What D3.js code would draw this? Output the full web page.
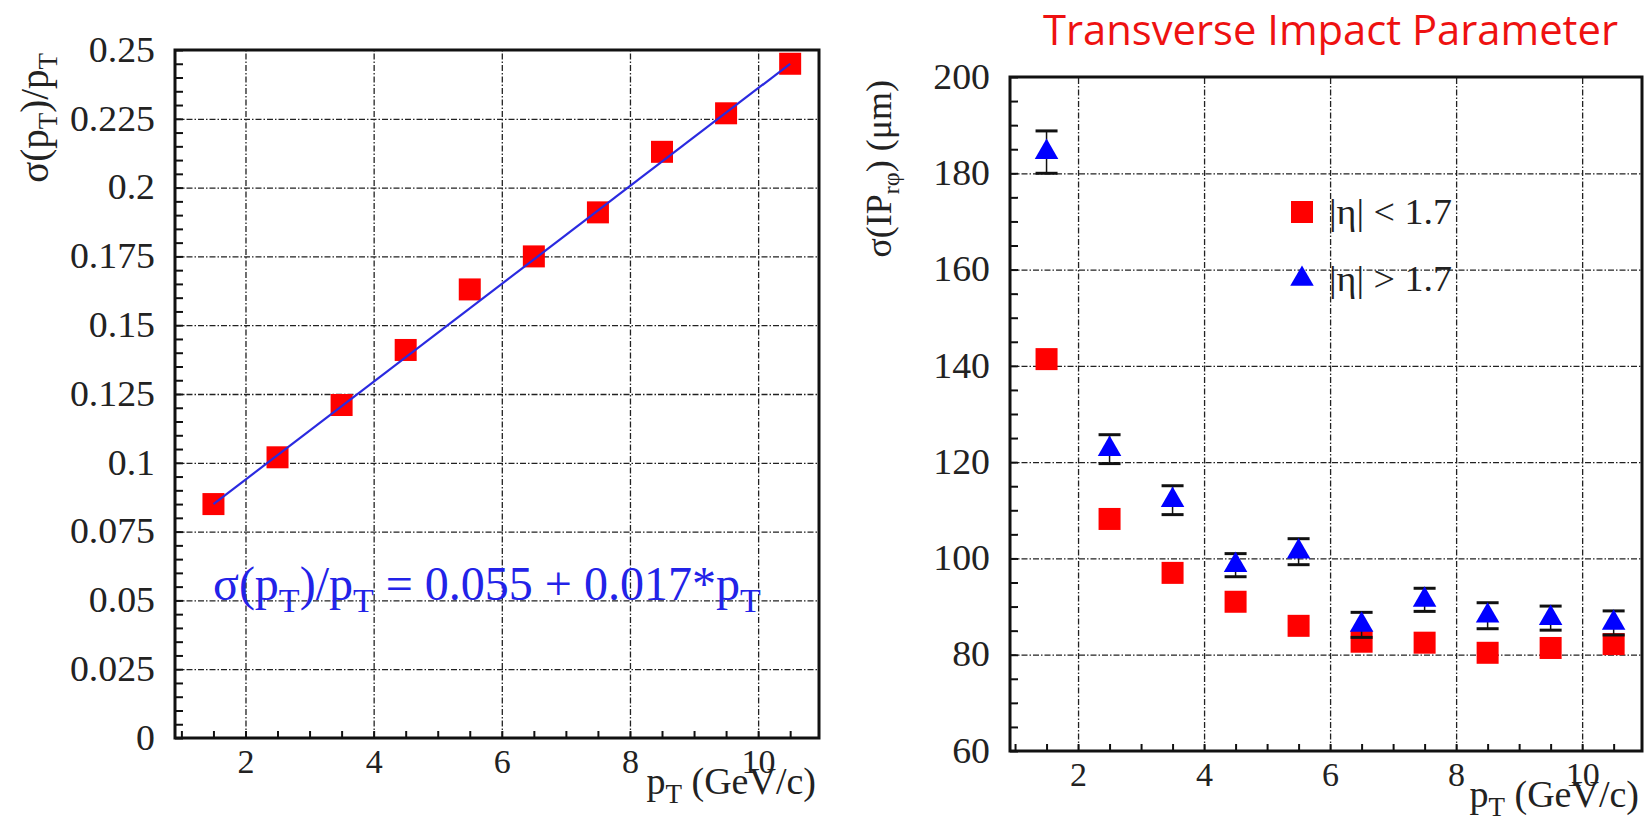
<!DOCTYPE html>
<html>
<head>
<meta charset="utf-8">
<script src="https://cdn.jsdelivr.net/npm/d3@7"></script>
<style>
    body { margin: 0; background: #fff; }
    .serif { font-family: "Liberation Serif", "DejaVu Serif", serif; }
    .grid line { stroke: #222; stroke-width: 1.3; stroke-dasharray: 6,2,1.5,2; }
</style>
</head>
<body>
<script>
//wrap everything in a self-executing anonymous function
(function(){

//---- data ----
var ptBins = [1.5, 2.5, 3.5, 4.5, 5.5, 6.5, 7.5, 8.5, 9.5, 10.5];

//left panel: momentum resolution
var resolution = [0.085, 0.102, 0.121, 0.141, 0.163, 0.175, 0.191, 0.213, 0.227, 0.245];
var fitX = [1.5, 10.5],
    fitY = [0.085, 0.245];

//right panel: transverse impact parameter (um)
var ipCentral = [141.4, 108.2, 97.0, 91.0, 86.0, 82.7, 82.5, 80.4, 81.4, 82.2];
var ipForward = [184.4, 122.7, 112.1, 98.6, 101.4, 86.2, 91.4, 88.1, 87.6, 86.6];
var ipForwardErr = [4.4, 3.0, 3.0, 2.4, 2.7, 2.6, 2.4, 2.7, 2.5, 2.5];

//tick values
var xMajor = [2, 4, 6, 8, 10];
var xMinor = d3.range(1, 10.75, 0.5);
var yLeftMajor = [0, 0.025, 0.05, 0.075, 0.1, 0.125, 0.15, 0.175, 0.2, 0.225, 0.25];
var yLeftLabels = ["0", "0.025", "0.05", "0.075", "0.1", "0.125", "0.15", "0.175", "0.2", "0.225", "0.25"];
var yLeftMinor = d3.range(0, 0.2501, 0.005);
var yRightMajor = [60, 80, 100, 120, 140, 160, 180, 200];
var yRightMinor = d3.range(60, 200.1, 5);

var legendLabels = ["|\u03b7| < 1.7", "|\u03b7| > 1.7"];

var red = "#ff0000",
    blue = "#0000ff";

window.onload = setChart();

function setChart(){
    var svg = d3.select("body")
        .append("svg")
        .attr("width", 1646)
        .attr("height", 822);

    //left panel scales
    var xL = d3.scaleLinear().domain([0.9, 10.95]).range([175, 819]),
        yL = d3.scaleLinear().domain([0, 0.25]).range([738, 50]);

    //right panel scales
    var xR = d3.scaleLinear().domain([0.92, 10.95]).range([1010, 1642]),
        yR = d3.scaleLinear().domain([60, 200]).range([751, 77]);

    drawFrame(svg, xL, yL, yLeftMajor, yLeftMinor, function(d, i){ return yLeftLabels[i]; });
    drawFrame(svg, xR, yR, yRightMajor, yRightMinor, d3.format("d"));

    drawLeft(svg, xL, yL);
    drawRight(svg, xR, yR);
};

//grid, ticks, labels and box for one panel
function drawFrame(svg, x, y, yMajor, yMinor, yFormat){
    var x0 = x.range()[0], x1 = x.range()[1],
        y0 = y.range()[0], y1 = y.range()[1],
        w = x1 - x0, h = y0 - y1;

    //dash-dot grid lines
    svg.append("g")
        .attr("class", "grid")
        .attr("transform", "translate(0," + y0 + ")")
        .call(d3.axisBottom(x).tickValues(xMajor).tickSize(-h).tickFormat(""))
        .call(function(g){ g.select(".domain").remove(); });

    svg.append("g")
        .attr("class", "grid")
        .attr("transform", "translate(" + x0 + ",0)")
        .call(d3.axisLeft(y).tickValues(yMajor.slice(1, -1)).tickSize(-w).tickFormat(""))
        .call(function(g){ g.select(".domain").remove(); });

    //minor ticks pointing inward
    svg.append("g")
        .attr("transform", "translate(0," + y0 + ")")
        .call(d3.axisBottom(x).tickValues(xMinor).tickSize(-7).tickFormat(""))
        .call(function(g){
            g.select(".domain").remove();
            g.selectAll("line").attr("stroke", "#111").attr("stroke-width", 2);
        });

    svg.append("g")
        .attr("transform", "translate(" + x0 + ",0)")
        .call(d3.axisLeft(y).tickValues(yMinor).tickSize(-8).tickFormat(""))
        .call(function(g){
            g.select(".domain").remove();
            g.selectAll("line").attr("stroke", "#111").attr("stroke-width", 2);
        });

    //tick labels (a little wider than the font, like the scan)
    svg.append("g")
        .attr("transform", "translate(0," + y0 + ")")
        .call(d3.axisBottom(x).tickValues(xMajor).tickSize(0).tickPadding(11))
        .call(function(g){
            g.select(".domain").remove();
            g.selectAll("text").attr("font-size", 34).attr("fill", "#222")
                .attr("font-family", "Liberation Serif, DejaVu Serif, serif");
        });

    var yAxis = svg.append("g")
        .attr("transform", "translate(" + x0 + ",0)")
        .call(d3.axisLeft(y).tickValues(yMajor).tickSize(0).tickPadding(20).tickFormat(yFormat))
        .call(function(g){
            g.select(".domain").remove();
            g.selectAll("text").attr("font-size", 35).attr("fill", "#222")
                .attr("font-family", "Liberation Serif, DejaVu Serif, serif");
        });
    yAxis.selectAll("text").each(function(){
        var len = this.getComputedTextLength();
        d3.select(this).attr("textLength", len * 1.08).attr("lengthAdjust", "spacingAndGlyphs");
    });

    //box
    svg.append("rect")
        .attr("x", x0)
        .attr("y", y1)
        .attr("width", w)
        .attr("height", h)
        .attr("fill", "none")
        .attr("stroke", "#111")
        .attr("stroke-width", 3);

    //x axis title, sits a bit below the tick labels
    var xt = svg.append("text")
        .attr("class", "serif")
        .attr("x", x1 - 3)
        .attr("y", y0 + 56)
        .attr("text-anchor", "end")
        .attr("font-size", 38)
        .attr("fill", "#222");
    xt.append("tspan").text("p");
    xt.append("tspan").attr("dy", 9).attr("font-size", 27).text("T");
    xt.append("tspan").attr("dy", -9).text(" (GeV/c)");
};

function drawLeft(svg, x, y){
    //red squares
    svg.selectAll(".resSq")
        .data(ptBins)
        .enter()
        .append("rect")
        .attr("class", "resSq")
        .attr("x", function(d){ return x(d) - 11; })
        .attr("y", function(d, i){ return y(resolution[i]) - 11; })
        .attr("width", 22)
        .attr("height", 22)
        .attr("fill", red);

    //linear fit
    var line = d3.line()
        .x(function(d){ return x(d); })
        .y(function(d, i){ return y(fitY[i]); });

    svg.append("path")
        .datum(fitX)
        .attr("d", line)
        .attr("fill", "none")
        .attr("stroke", "#2a2ae0")
        .attr("stroke-width", 2.2);

    //fit formula
    var f = svg.append("text")
        .attr("class", "serif")
        .attr("x", 213)
        .attr("y", 600)
        .attr("font-size", 48)
        .attr("fill", "#2222e8");
    f.append("tspan").text("\u03c3(p");
    f.append("tspan").attr("dy", 12).attr("font-size", 34).text("T");
    f.append("tspan").attr("dy", -12).text(")/p");
    f.append("tspan").attr("dy", 12).attr("font-size", 34).text("T");
    f.append("tspan").attr("dy", -12).text(" = 0.055 + 0.017*p");
    f.append("tspan").attr("dy", 12).attr("font-size", 34).text("T");

    //y axis title
    var t = svg.append("text")
        .attr("class", "serif")
        .attr("transform", "translate(48,53) rotate(-90)")
        .attr("text-anchor", "end")
        .attr("font-size", 39)
        .attr("fill", "#222");
    t.append("tspan").text("\u03c3(p");
    t.append("tspan").attr("dy", 9).attr("font-size", 27).text("T");
    t.append("tspan").attr("dy", -9).text(")/p");
    t.append("tspan").attr("dy", 9).attr("font-size", 27).text("T");
};

function drawRight(svg, x, y){
    var tri = d3.symbol().type(d3.symbolTriangle).size(240);

    //red squares first
    svg.selectAll(".ipSq")
        .data(ptBins)
        .enter()
        .append("rect")
        .attr("class", "ipSq")
        .attr("x", function(d){ return x(d) - 11; })
        .attr("y", function(d, i){ return y(ipCentral[i]) - 11; })
        .attr("width", 22)
        .attr("height", 22)
        .attr("fill", red);

    //error bars for triangles
    var err = svg.selectAll(".err")
        .data(ptBins)
        .enter()
        .append("g")
        .attr("class", "err");

    err.append("line")
        .attr("x1", function(d){ return x(d); })
        .attr("x2", function(d){ return x(d); })
        .attr("y1", function(d, i){ return y(ipForward[i] - ipForwardErr[i]); })
        .attr("y2", function(d, i){ return y(ipForward[i] + ipForwardErr[i]); })
        .attr("stroke", "#111")
        .attr("stroke-width", 1.5);

    [-1, 1].forEach(function(s){
        err.append("line")
            .attr("x1", function(d){ return x(d) - 11; })
            .attr("x2", function(d){ return x(d) + 11; })
            .attr("y1", function(d, i){ return y(ipForward[i] + s * ipForwardErr[i]); })
            .attr("y2", function(d, i){ return y(ipForward[i] + s * ipForwardErr[i]); })
            .attr("stroke", "#111")
            .attr("stroke-width", 3);
    });

    //blue triangles
    svg.selectAll(".ipTri")
        .data(ptBins)
        .enter()
        .append("path")
        .attr("class", "ipTri")
        .attr("d", tri)
        .attr("transform", function(d, i){
            return "translate(" + x(d) + "," + y(ipForward[i]) + ")";
        })
        .attr("fill", blue);

    //legend
    var legend = svg.append("g");
    legend.append("rect")
        .attr("x", 1291).attr("y", 201)
        .attr("width", 22).attr("height", 22)
        .attr("fill", red);
    legend.append("path")
        .attr("d", tri)
        .attr("transform", "translate(1302,279)")
        .attr("fill", blue);
    legend.selectAll(".legText")
        .data(legendLabels)
        .enter()
        .append("text")
        .attr("class", "legText serif")
        .attr("x", 1329)
        .attr("y", function(d, i){ return 224 + i * 67; })
        .attr("font-size", 36)
        .attr("fill", "#222")
        .attr("textLength", 123)
        .attr("lengthAdjust", "spacingAndGlyphs")
        .text(function(d){ return d; });

    //title
    svg.append("text")
        .attr("x", 1043)
        .attr("y", 45)
        .attr("font-family", "'Open Sans', 'Noto Sans', sans-serif")
        .attr("font-size", 42)
        .attr("fill", "#ee1111")
        .attr("textLength", 575)
        .attr("lengthAdjust", "spacingAndGlyphs")
        .text("Transverse Impact Parameter");

    //y axis title
    var t = svg.append("text")
        .attr("class", "serif")
        .attr("transform", "translate(891,80) rotate(-90)")
        .attr("text-anchor", "end")
        .attr("font-size", 36)
        .attr("fill", "#222");
    t.append("tspan").text("\u03c3(IP");
    t.append("tspan").attr("dy", 8).attr("font-size", 24).text("r\u03c6");
    t.append("tspan").attr("dy", -8).text(")  (\u03bcm)");
};

})();
</script>
</body>
</html>
